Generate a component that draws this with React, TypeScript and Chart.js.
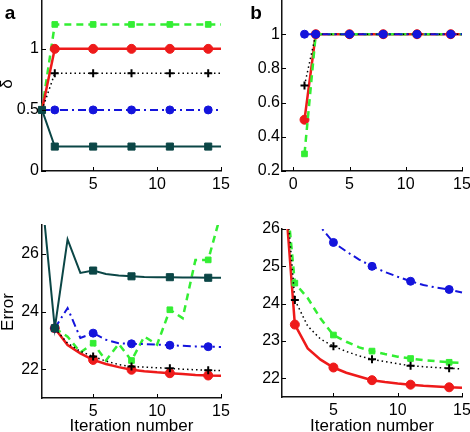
import React, { useEffect, useRef } from 'react';
import { Chart, registerables } from 'chart.js';

Chart.register(...registerables);

// ---------- data ----------
const ITER = [1, 2, 3, 4, 5, 6, 7, 8, 9, 10, 11, 12, 13, 14, 15];
const MARKS_A = [2, 5, 8, 11, 14];
const MARKS_B = [1, 2, 5, 8, 11, 14];

// panel a, top (delta)
const A_TOP_GREEN = [0.5, 1.2, 1.2, 1.2, 1.2, 1.2, 1.2, 1.2, 1.2, 1.2, 1.2, 1.2, 1.2, 1.2, 1.2];
const A_TOP_RED = [0.5, 1, 1, 1, 1, 1, 1, 1, 1, 1, 1, 1, 1, 1, 1];
const A_TOP_BLACK = [0.5, 0.8, 0.8, 0.8, 0.8, 0.8, 0.8, 0.8, 0.8, 0.8, 0.8, 0.8, 0.8, 0.8, 0.8];
const A_TOP_BLUE = [0.5, 0.5, 0.5, 0.5, 0.5, 0.5, 0.5, 0.5, 0.5, 0.5, 0.5, 0.5, 0.5, 0.5, 0.5];
const A_TOP_TEAL = [0.5, 0.2, 0.2, 0.2, 0.2, 0.2, 0.2, 0.2, 0.2, 0.2, 0.2, 0.2, 0.2, 0.2, 0.2];

// panel b, top
const B_TOP_RED = [0.5, 1, 1, 1, 1, 1, 1, 1, 1, 1, 1, 1, 1, 1, 1];
const B_TOP_BLACK = [0.7, 1, 1, 1, 1, 1, 1, 1, 1, 1, 1, 1, 1, 1, 1];
const B_TOP_GREEN = [0.3, 1, 1, 1, 1, 1, 1, 1, 1, 1, 1, 1, 1, 1, 1];
const B_TOP_BLUE = [1, 1, 1, 1, 1, 1, 1, 1, 1, 1, 1, 1, 1, 1, 1];

// panel a, bottom (error)
const A_BOT_TEAL = [28, 23.42, 26.5, 25.34, 25.42, 25.3, 25.25, 25.22, 25.2, 25.19, 25.19, 25.18, 25.18, 25.17, 25.17];
const A_BOT_BLUE = [null, 23.42, 24.12, 23.08, 23.25, 23.02, 22.9, 22.88, 22.87, 22.85, 22.83, 22.81, 22.79, 22.78, 22.77];
const A_BOT_GREEN = [null, 23.42, 23.13, 22.58, 22.9, 22.3, 22.88, 22.3, 23.13, 22.85, 24.06, 23.77, 25.79, 25.79, 27.4];
const A_BOT_BLACK = [null, 23.42, 22.9, 22.62, 22.44, 22.28, 22.16, 22.09, 22.07, 22.05, 22.03, 22.0, 21.98, 21.96, 21.95];
const A_BOT_RED = [null, 23.42, 22.84, 22.55, 22.32, 22.18, 22.07, 21.98, 21.93, 21.89, 21.86, 21.83, 21.8, 21.78, 21.77];

// panel b, bottom (error)
const B_BOT_RED = [28, 23.44, 22.8, 22.5, 22.29, 22.15, 22.05, 21.95, 21.9, 21.86, 21.83, 21.8, 21.78, 21.76, 21.75];
const B_BOT_BLACK = [28.3, 24.1, 23.4, 23.05, 22.86, 22.72, 22.6, 22.51, 22.45, 22.39, 22.34, 22.31, 22.29, 22.27, 22.25];
const B_BOT_GREEN = [28.2, 24.55, 24.15, 23.6, 23.16, 22.98, 22.83, 22.73, 22.65, 22.58, 22.53, 22.49, 22.46, 22.43, 22.41];
const B_BOT_BLUE = [31, 28.5, 27, 26.05, 25.64, 25.4, 25.18, 25.0, 24.85, 24.72, 24.6, 24.5, 24.43, 24.38, 24.3];

// tick labels
const X_TICKS_A = [5, 10, 15];
const X_TICKS_B_TOP = [0, 5, 10, 15];
const Y_TICKS_A_TOP = [0, 0.5, 1];
const Y_TICKS_B_TOP = [0.2, 0.4, 0.6, 0.8, 1];
const Y_TICKS_A_BOT = [22, 24, 26];
const Y_TICKS_B_BOT = [22, 23, 24, 25, 26];

// ---------- styles ----------
const FONT = "'Liberation Sans', Arial, Helvetica, sans-serif";
const RED = '#ee1a1a';
const GREEN = '#33ee33';
const BLUE = '#1414dc';
const BLACK = '#000000';
const TEAL = '#0b4646';

type Style = { color: string; width: number; dash: number[]; marker: string; r: number; bw: number };
const S_RED: Style = { color: RED, width: 2.5, dash: [], marker: 'circle', r: 4.5, bw: 1 };
const S_GREEN: Style = { color: GREEN, width: 2.5, dash: [7, 5], marker: 'rect', r: 4, bw: 1 };
const S_BLACK: Style = { color: BLACK, width: 1.5, dash: [1.5, 3], marker: 'cross', r: 4, bw: 2 };
const S_BLUE: Style = { color: BLUE, width: 2, dash: [8, 4, 2, 4], marker: 'circle', r: 4, bw: 1 };
const S_TEAL: Style = { color: TEAL, width: 2, dash: [], marker: 'rect', r: 5, bw: 1 };

type Spec = {
  plot: { left: number; top: number; right: number; bottom: number };
  xMin: number; xMax: number; yMin: number; yMax: number;
  xTicks: number[]; yTicks: number[]; tickPad: number;
  series: { values: (number | null)[]; style: Style; marks: number[] }[];
};

const inwardTicks = {
  id: 'inwardTicks',
  afterDatasetsDraw(chart: any) {
    const { ctx, chartArea, scales } = chart;
    ctx.save();
    ctx.strokeStyle = '#000';
    ctx.lineWidth = 1;
    ctx.setLineDash([]);
    scales.x.ticks.forEach((t: any) => {
      const px = Math.round(scales.x.getPixelForValue(t.value)) + 0.5;
      ctx.beginPath();
      ctx.moveTo(px, chartArea.bottom);
      ctx.lineTo(px, chartArea.bottom - 4);
      ctx.stroke();
    });
    scales.y.ticks.forEach((t: any) => {
      const py = Math.round(scales.y.getPixelForValue(t.value)) + 0.5;
      ctx.beginPath();
      ctx.moveTo(chartArea.left, py);
      ctx.lineTo(chartArea.left + 4, py);
      ctx.stroke();
    });
    ctx.restore();
  },
};

const ML = 60, MR = 20, MT = 20, MB = 50, WY = 50, HX = 30;

function Panel({ spec }: { spec: Spec }) {
  const ref = useRef<HTMLCanvasElement>(null);
  const pw = spec.plot.right - spec.plot.left;
  const ph = spec.plot.bottom - spec.plot.top;
  const w = pw + ML + MR;
  const h = ph + MT + MB;
  useEffect(() => {
    const datasets = spec.series.map((s) => ({
      data: ITER.map((x, i) => ({ x, y: s.values[i] })),
      borderColor: s.style.color,
      backgroundColor: s.style.color,
      borderWidth: s.style.width,
      borderDash: s.style.dash,
      pointStyle: s.style.marker,
      pointRadius: (c: any) => (s.marks.includes(ITER[c.dataIndex]) ? s.style.r : 0),
      pointBackgroundColor: s.style.color,
      pointBorderColor: s.style.color,
      pointBorderWidth: s.style.bw,
      tension: 0,
      spanGaps: false,
      clip: { left: 8, right: 8, top: 0, bottom: 8 },
    }));
    const tickFont = { family: FONT, size: 16 };
    const fmt = (v: any) => String(v);
    const chart = new Chart(ref.current as HTMLCanvasElement, {
      type: 'line',
      data: { datasets } as any,
      options: {
        animation: false,
        responsive: false,
        maintainAspectRatio: false,
        layout: { padding: { left: ML - WY, right: MR, top: MT, bottom: MB - HX } },
        plugins: { legend: { display: false }, tooltip: { enabled: false } },
        scales: {
          x: {
            type: 'linear',
            min: spec.xMin,
            max: spec.xMax,
            grid: { display: false, drawTicks: false },
            border: { display: true, color: '#111', width: 1.5 },
            ticks: { font: tickFont, color: '#000', padding: 4, maxRotation: 0, autoSkip: false, callback: fmt },
            afterBuildTicks: (s: any) => { s.ticks = spec.xTicks.map((v) => ({ value: v })); },
            afterFit: (s: any) => { s.height = HX; },
          },
          y: {
            type: 'linear',
            min: spec.yMin,
            max: spec.yMax,
            grid: { display: false, drawTicks: false },
            border: { display: true, color: '#111', width: 1.5 },
            ticks: { font: tickFont, color: '#000', padding: spec.tickPad, autoSkip: false, callback: fmt },
            afterBuildTicks: (s: any) => { s.ticks = spec.yTicks.map((v) => ({ value: v })); },
            afterFit: (s: any) => { s.width = WY; },
          },
        },
      } as any,
      plugins: [inwardTicks],
    });
    return () => chart.destroy();
  }, []);
  return (
    <canvas
      ref={ref}
      width={w}
      height={h}
      style={{ position: 'absolute', left: spec.plot.left - ML, top: spec.plot.top - MT, width: w, height: h }}
    />
  );
}

const SPEC_A_TOP: Spec = {
  plot: { left: 42, top: 0, right: 221, bottom: 171 },
  xMin: 1, xMax: 15, yMin: 0, yMax: 1.4,
  xTicks: X_TICKS_A, yTicks: Y_TICKS_A_TOP, tickPad: 3,
  series: [
    { values: A_TOP_TEAL, style: S_TEAL, marks: [1, ...MARKS_A] },
    { values: A_TOP_BLUE, style: S_BLUE, marks: MARKS_A },
    { values: A_TOP_BLACK, style: S_BLACK, marks: MARKS_A },
    { values: A_TOP_RED, style: S_RED, marks: MARKS_A },
    { values: A_TOP_GREEN, style: S_GREEN, marks: MARKS_A },
  ],
};

const SPEC_B_TOP: Spec = {
  plot: { left: 282, top: 0, right: 462, bottom: 171 },
  xMin: -1, xMax: 15, yMin: 0.2, yMax: 1.2,
  xTicks: X_TICKS_B_TOP, yTicks: Y_TICKS_B_TOP, tickPad: 2,
  series: [
    { values: B_TOP_BLUE, style: S_BLUE, marks: MARKS_B },
    { values: B_TOP_BLACK, style: S_BLACK, marks: MARKS_B },
    { values: B_TOP_GREEN, style: S_GREEN, marks: MARKS_B },
    { values: B_TOP_RED, style: S_RED, marks: MARKS_B },
  ],
};

const SPEC_A_BOT: Spec = {
  plot: { left: 42, top: 225, right: 221, bottom: 398 },
  xMin: 1, xMax: 15, yMin: 21, yMax: 27,
  xTicks: X_TICKS_A, yTicks: Y_TICKS_A_BOT, tickPad: 3,
  series: [
    { values: A_BOT_TEAL, style: S_TEAL, marks: MARKS_A },
    { values: A_BOT_BLACK, style: S_BLACK, marks: MARKS_A },
    { values: A_BOT_BLUE, style: S_BLUE, marks: MARKS_A },
    { values: A_BOT_GREEN, style: S_GREEN, marks: MARKS_A },
    { values: A_BOT_RED, style: S_RED, marks: MARKS_A },
  ],
};

const SPEC_B_BOT: Spec = {
  plot: { left: 282, top: 229, right: 462, bottom: 397 },
  xMin: 1, xMax: 15, yMin: 21.5, yMax: 26,
  xTicks: X_TICKS_A, yTicks: Y_TICKS_B_BOT, tickPad: 2,
  series: [
    { values: B_BOT_BLUE, style: S_BLUE, marks: MARKS_A },
    { values: B_BOT_BLACK, style: S_BLACK, marks: MARKS_A },
    { values: B_BOT_GREEN, style: S_GREEN, marks: MARKS_A },
    { values: B_BOT_RED, style: S_RED, marks: MARKS_A },
  ],
};

function Label({ text, x, y, size, bold, rotate }: { text: string; x: number; y: number; size: number; bold?: boolean; rotate?: boolean }) {
  return (
    <div
      style={{
        position: 'absolute',
        left: x,
        top: y,
        transform: `translate(-50%, -50%)${rotate ? ' rotate(-90deg)' : ''}`,
        fontFamily: FONT,
        fontSize: size,
        fontWeight: bold ? 'bold' : 'normal',
        lineHeight: 1,
        whiteSpace: 'nowrap',
        color: '#000',
      }}
    >
      {text}
    </div>
  );
}

export default function App() {
  return (
    <div style={{ position: 'fixed', left: 0, top: 0, width: 470, height: 432, overflow: 'hidden', background: '#fff' }}>
      <Panel spec={SPEC_A_TOP} />
      <Panel spec={SPEC_B_TOP} />
      <Panel spec={SPEC_A_BOT} />
      <Panel spec={SPEC_B_BOT} />
      <Label text="a" x={10} y={12} size={19} bold />
      <Label text="b" x={256} y={12} size={19} bold />
      <Label text="δ" x={6} y={84} size={17} rotate />
      <Label text="Error" x={7} y={312} size={17} rotate />
      <Label text="Iteration number" x={131.5} y={425} size={17} />
      <Label text="Iteration number" x={372} y={425} size={17} />
    </div>
  );
}
